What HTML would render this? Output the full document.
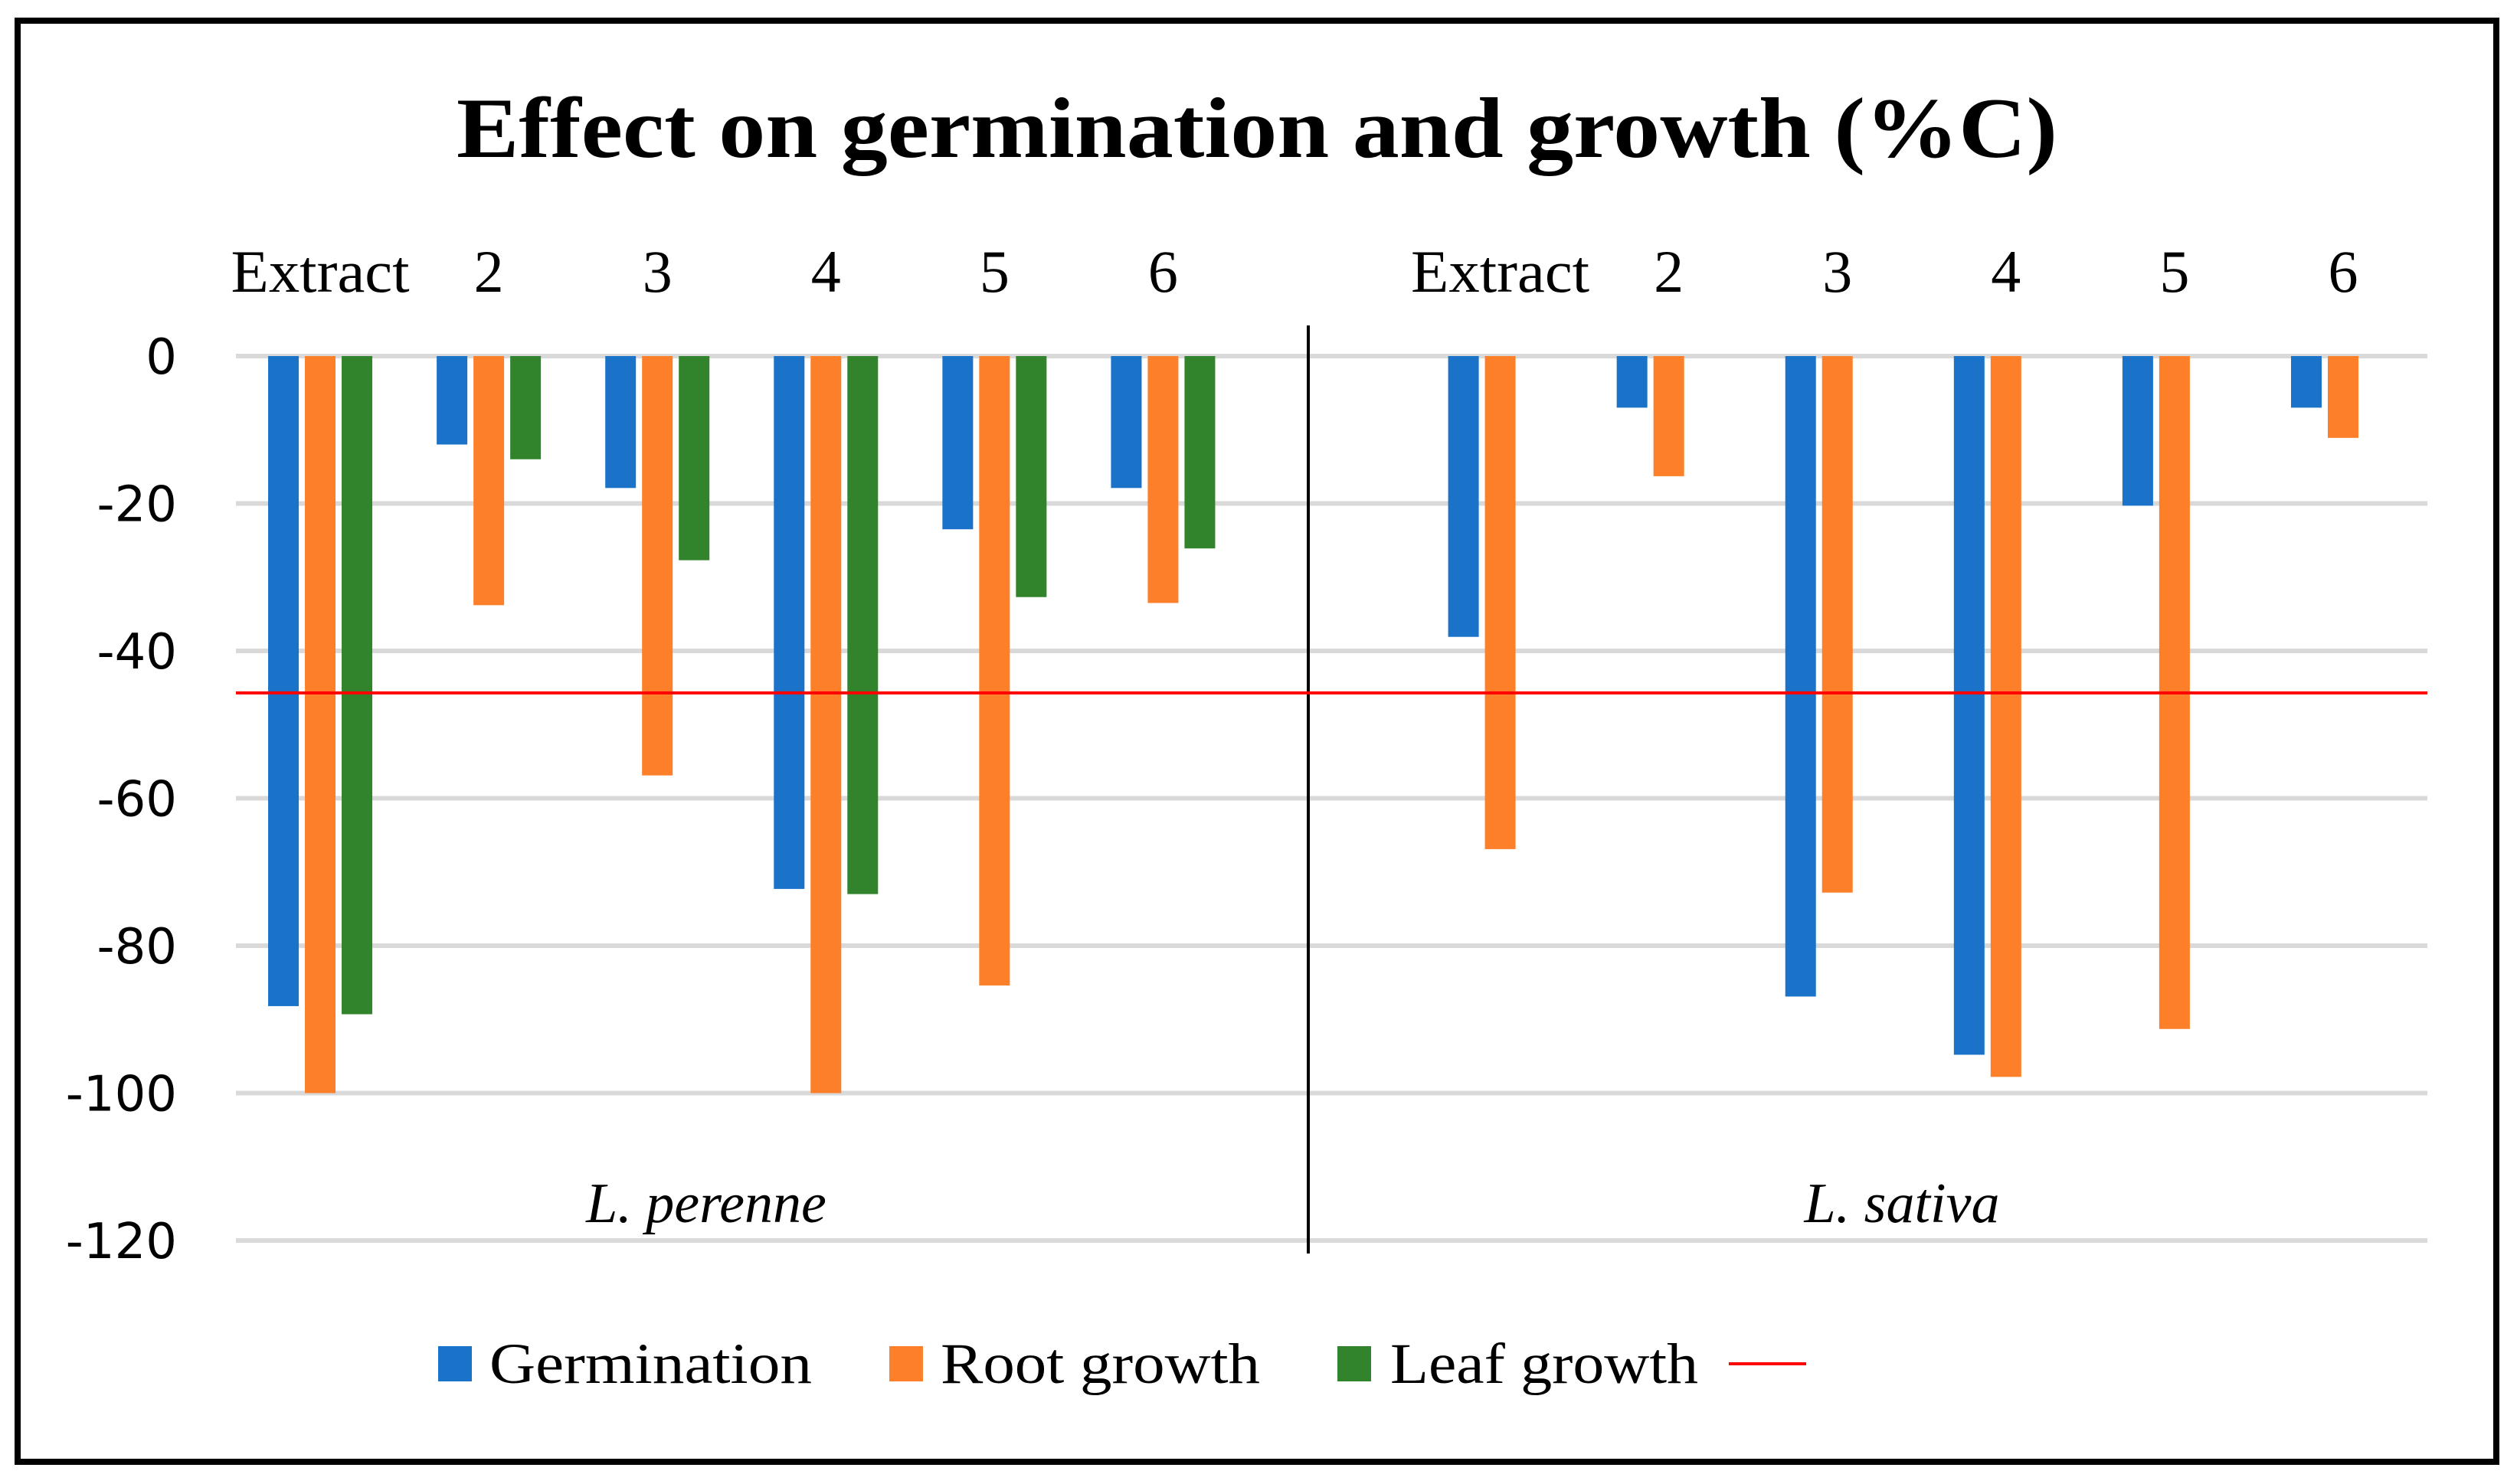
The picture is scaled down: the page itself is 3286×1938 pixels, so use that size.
<!DOCTYPE html>
<html><head><meta charset="utf-8"><style>
html,body{margin:0;padding:0;background:#fff;}
svg{display:block;}
</style></head><body>
<svg id="chart" width="3286" height="1938" viewBox="0 0 3286 1938" xmlns="http://www.w3.org/2000/svg">
<rect x="23" y="27" width="3236" height="1882" fill="#fff" stroke="#000" stroke-width="8"/>
<text x="1641" y="205" text-anchor="middle" font-family="Liberation Serif, serif" font-weight="bold" font-size="112" textLength="2090" lengthAdjust="spacingAndGlyphs">Effect on germination and growth (%C)</text>
<g id="grid"></g>
<g id="yticks"></g>
<g id="xlabels"></g>
<g id="bars"></g>
<line x1="1708" y1="425" x2="1708" y2="1637" stroke="#000" stroke-width="4"/>
<g id="refline"></g>
<text x="922" y="1596" text-anchor="middle" font-family="Liberation Serif, serif" font-style="italic" font-size="74">L. perenne</text>
<text x="2483" y="1596" text-anchor="middle" font-family="Liberation Serif, serif" font-style="italic" font-size="74">L. sativa</text>
<g font-family="Liberation Serif, serif" font-size="75">
<rect x="572" y="1758" width="44" height="46" fill="#1a73c8"/>
<text x="639" y="1806" textLength="421" lengthAdjust="spacingAndGlyphs">Germination</text>
<rect x="1161" y="1758" width="44" height="46" fill="#fe7f29"/>
<text x="1228" y="1806" textLength="417" lengthAdjust="spacingAndGlyphs">Root growth</text>
<rect x="1746" y="1758" width="44" height="46" fill="#31842b"/>
<text x="1815" y="1806" textLength="402" lengthAdjust="spacingAndGlyphs">Leaf growth</text>
<line x1="2257" y1="1781" x2="2358" y2="1781" stroke="#ff0000" stroke-width="4"/>
</g>
</svg>
<script>
const categories = ["Extract","2","3","4","5","6","","Extract","2","3","4","5","6"];
const germination = [-88.2,-12,-17.9,-72.3,-23.5,-17.9,null,-38.1,-7,-86.9,-94.8,-20.3,-7];
const rootGrowth = [-100,-33.8,-56.9,-100,-85.4,-33.5,null,-66.9,-16.3,-72.8,-97.8,-91.3,-11.1];
const leafGrowth = [-89.3,-14,-27.7,-73,-32.7,-26.1,null,null,null,null,null,null,null];
const yTicks = [0,-20,-40,-60,-80,-100,-120];
const threshold = -45.7;

const NS = "http://www.w3.org/2000/svg";
const plotL = 308, plotR = 3169, y0 = 465, pxPerUnit = 9.625;
const band = (plotR - plotL) / categories.length;
function yScale(v){ return y0 - v * pxPerUnit; }
function xCenter(i){ return plotL + band * (i + 0.5); }
function mk(tag, attrs, parent){ const e = document.createElementNS(NS, tag); for (const k in attrs) e.setAttribute(k, attrs[k]); parent.appendChild(e); return e; }

const grid = document.getElementById('grid');
const yt = document.getElementById('yticks');
yTicks.forEach(t => {
  const g = mk('line', {x1: plotL, x2: plotR, y1: yScale(t), y2: yScale(t), stroke: '#d9d9d9', 'stroke-width': 6}, grid);
  
  
  const tx = mk('text', {x: 231, y: yScale(t) + 23, 'text-anchor': 'end', 'font-family': 'DejaVu Sans, sans-serif', 'font-size': 64}, yt);
  tx.textContent = String(t);
  
  
});

const xl = document.getElementById('xlabels');
categories.forEach((c, i) => {
  if (!c) return;
  const attrs = {x: xCenter(i), y: 381, 'text-anchor': 'middle', 'font-family': 'Liberation Serif, serif', 'font-size': 78};
  if (c === 'Extract') { attrs.textLength = 233; attrs.lengthAdjust = 'spacingAndGlyphs'; }
  const tx = mk('text', attrs, xl);
  tx.textContent = c;
  
  
});

const bars = document.getElementById('bars');
const series = [[germination, '#1a73c8', 'bar-germination'], [rootGrowth, '#fe7f29', 'bar-root-growth'], [leafGrowth, '#31842b', 'bar-leaf-growth']];
const bw = 40, off = 48;
series.forEach((s, si) => {
  s[0].forEach((v, i) => {
    if (v === null) return;
    const x = xCenter(i) + (si - 1) * off - bw / 2;
    const r = mk('rect', {x: x, y: yScale(0), width: bw, height: yScale(v) - yScale(0), fill: s[1]}, bars);
    
    
  });
});

const rl = mk('line', {x1: plotL, x2: plotR, y1: yScale(threshold), y2: yScale(threshold), stroke: '#ff0000', 'stroke-width': 4}, document.getElementById('refline'));


</script>
</body></html>
